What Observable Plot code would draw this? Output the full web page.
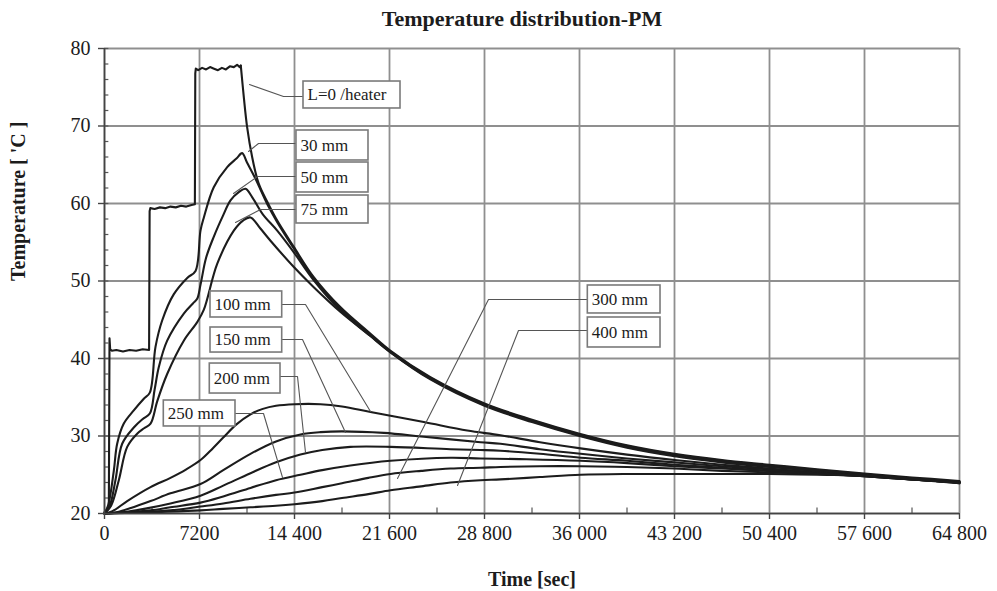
<!DOCTYPE html>
<html>
<head>
<meta charset="utf-8">
<script src="https://cdn.jsdelivr.net/npm/d3@7"></script>
<script src="https://cdn.jsdelivr.net/npm/@observablehq/plot@0.6"></script>
<style>
  html, body { margin: 0; padding: 0; background: #fff; }
  #chart svg { font-family: "Liberation Serif", "Times New Roman", serif; }
</style>
</head>
<body>
<div id="chart"></div>
<script>
// ---------- data ----------
const chartTitle = "Temperature distribution-PM";
const xLabel = "Time [sec]";
const yLabel = "Temperature [ 'C ]";
const xTicks = [0, 7200, 14400, 21600, 28800, 36000, 43200, 50400, 57600, 64800];
const yTicks = [20, 30, 40, 50, 60, 70, 80];

const timeHeater = [0, 200, 330, 380, 430, 560, 900, 1400, 1900, 2400, 2900, 3380, 3420, 3470, 3800, 4200, 4600, 5000, 5400, 5800, 6200, 6600, 6850, 6880, 6920, 7100, 7400, 7700, 8000, 8300, 8600, 8900, 9200, 9500, 9800, 10050, 10250, 10330, 10560, 10815, 11190, 11570, 11820, 12400, 13090, 14350, 15860, 17890, 20160, 21680, 24700, 28800, 32400, 36000, 39600, 43200, 46800, 50400, 54000, 57600, 61200, 64800];
const tempHeater = [20.2, 20.5, 21, 42.6, 41.2, 41.0, 41.1, 40.9, 41.1, 41.0, 41.2, 41.1, 59.0, 59.4, 59.3, 59.5, 59.4, 59.6, 59.5, 59.7, 59.6, 59.8, 59.9, 76.8, 77.4, 77.2, 77.5, 77.3, 77.6, 77.4, 77.2, 77.5, 77.3, 77.7, 77.6, 77.9, 77.6, 77.8, 73.7, 69.8, 66.0, 63.2, 62.0, 60.0, 57.8, 54.4, 50.5, 46.6, 43.2, 41.0, 37.6, 34.2, 32.1, 30.3, 28.8, 27.7, 26.9, 26.3, 25.7, 25.15, 24.65, 24.2];
const heaterCoolingStart = 10330; // time where the heater switches off

const time30 = [0, 300, 705, 960, 1463, 2220, 2980, 3435, 3865, 4370, 5255, 6270, 6900, 7275, 7530, 8280, 9300, 10000, 10430, 10800, 11444, 12400, 13090, 14350, 15860, 17890, 20160, 21680, 24700, 28800, 32400, 36000, 39600, 43200, 46800, 50400, 54000, 57600, 61200, 64800];
const temp30 = [20, 21.2, 25.5, 29, 31.6, 33.3, 34.8, 35.6, 41.5, 44.9, 48.3, 50.4, 51.3, 56.5, 58.2, 62.1, 64.7, 65.8, 66.5, 65.3, 63.2, 59.7, 57.6, 54.2, 50.3, 46.4, 43.0, 40.9, 37.5, 34.1, 32.0, 30.2, 28.7, 27.6, 26.8, 26.2, 25.6, 25.05, 24.55, 24.1];

const time50 = [0, 400, 830, 1340, 2220, 2900, 3435, 3800, 4117, 4750, 6010, 6700, 7025, 7275, 7700, 8280, 9000, 9550, 10200, 10690, 11200, 12000, 13090, 14350, 15860, 17890, 20160, 21680, 24700, 28800, 32400, 36000, 39600, 43200, 46800, 50400, 54000, 57600, 61200, 64800];
const temp50 = [20, 21, 24.3, 29, 31.1, 32.2, 32.9, 36, 38.9, 42.3, 45.8, 47.1, 47.7, 49.5, 53, 55.7, 58.5, 60.4, 61.5, 61.9, 60.8, 58.6, 56.5, 53.7, 50.1, 46.2, 42.9, 40.8, 37.4, 34.0, 31.9, 30.1, 28.6, 27.5, 26.7, 26.1, 25.5, 24.95, 24.5, 24.1];

const time75 = [0, 500, 1085, 1720, 2475, 3000, 3490, 4000, 4750, 6010, 7025, 7530, 8540, 9800, 10500, 11065, 11800, 12580, 14350, 15860, 17890, 20160, 21680, 24700, 28800, 32400, 36000, 39600, 43200, 46800, 50400, 54000, 57600, 61200, 64800];
const temp75 = [20, 21, 24.3, 28.6, 30.3, 31, 31.6, 34.5, 38, 42.3, 44.7, 46.3, 52.2, 56.5, 57.8, 58.2, 56.8, 55.2, 51.8, 49.2, 46.0, 42.9, 40.8, 37.3, 33.9, 31.8, 30.0, 28.5, 27.4, 26.6, 26.0, 25.5, 24.9, 24.45, 24.0];

const time100 = [0, 600, 1720, 3490, 5000, 6200, 7275, 8200, 9000, 10000, 11065, 12000, 13000, 14400, 16370, 18000, 20160, 24200, 27490, 30010, 33000, 36080, 39600, 43200, 46800, 50400, 54000, 57600, 61200, 64800];
const temp100 = [20, 20.3, 21.6, 23.4, 24.6, 25.7, 26.9, 28.4, 29.8, 31.5, 32.8, 33.5, 33.9, 34.1, 34.1, 33.8, 33.1, 31.8, 30.7, 30.1, 29.2, 28.4, 27.6, 26.9, 26.3, 25.8, 25.3, 24.9, 24.4, 24.0];

const time150 = [0, 1000, 2000, 3490, 5000, 7275, 9000, 11065, 13000, 14850, 16370, 18000, 21170, 24200, 28500, 30010, 33000, 36080, 39600, 43200, 46800, 50400, 54000, 57600, 61200, 64800];
const temp150 = [20, 20.2, 20.7, 21.6, 22.6, 23.8, 25.6, 27.7, 29.3, 30.2, 30.5, 30.6, 30.4, 29.9, 29.2, 29.0, 28.3, 27.7, 27.1, 26.6, 26.1, 25.7, 25.3, 24.9, 24.4, 24.0];

const time200 = [0, 1500, 3000, 5000, 7275, 9000, 11065, 13000, 14850, 16500, 18640, 21680, 26220, 28500, 30010, 33000, 36080, 39600, 43200, 46800, 50400, 54000, 57600, 61200, 64800];
const temp200 = [20, 20.2, 20.6, 21.3, 22.3, 23.6, 25.2, 26.6, 27.6, 28.2, 28.6, 28.6, 28.3, 28.2, 28.1, 27.7, 27.2, 26.8, 26.3, 25.9, 25.5, 25.2, 24.8, 24.4, 24.0];

const time250 = [0, 2000, 3500, 5000, 7275, 9000, 11065, 13000, 14850, 16500, 18640, 21680, 26220, 28500, 32000, 36080, 39600, 43200, 46800, 50400, 54000, 57600, 61200, 64800];
const temp250 = [20, 20.2, 20.4, 20.8, 21.4, 22.2, 23.3, 24.3, 25.0, 25.6, 26.2, 26.8, 27.2, 27.1, 27.0, 26.8, 26.5, 26.1, 25.8, 25.5, 25.2, 24.8, 24.4, 24.0];

const time300 = [0, 3000, 5000, 7275, 9000, 11065, 13000, 14400, 16500, 18000, 20000, 21680, 24000, 26220, 28500, 30010, 33000, 36080, 39600, 43200, 46800, 50400, 54000, 57600, 61200, 64800];
const temp300 = [20, 20.2, 20.4, 20.9, 21.3, 21.9, 22.4, 22.7, 23.4, 23.9, 24.6, 25.1, 25.5, 25.8, 25.9, 26.0, 26.1, 26.1, 26.0, 25.8, 25.5, 25.3, 25.1, 24.8, 24.4, 23.9];

const time400 = [0, 4000, 7275, 9000, 11065, 13000, 14400, 16500, 18000, 20000, 21680, 24000, 26220, 28500, 30010, 33000, 36080, 39600, 43200, 46800, 50400, 54000, 57600, 61200, 64800];
const temp400 = [20, 20.2, 20.4, 20.6, 20.8, 21.0, 21.2, 21.6, 22.0, 22.5, 23.0, 23.5, 24.0, 24.3, 24.4, 24.7, 25.0, 25.1, 25.1, 25.1, 25.1, 25.0, 24.9, 24.5, 23.9];

// label boxes (data units) and leader lines
const labelNames = ["L=0 /heater", "30 mm", "50 mm", "75 mm", "100 mm", "150 mm", "200 mm", "250 mm", "300 mm", "400 mm"];
const boxTimeStart = [15082, 14550, 14550, 14550, 8034, 8034, 7980, 4494, 36630, 36630];
const boxTimeEnd   = [22434, 20008, 20008, 20008, 13468, 13468, 13339, 9928, 42140, 42140];
const boxTempTop    = [75.74, 69.42, 65.29, 61.03, 48.65, 44.0, 39.35, 34.58, 49.42, 45.29];
const boxTempBottom = [72.26, 65.55, 61.42, 57.42, 45.29, 40.77, 35.48, 31.23, 45.81, 41.42];
const leaderTimes = [
  [10990, 13566, 15082],
  [10914, 11672, 14550],
  [9777, 11596, 14550],
  [9928, 11823, 14550],
  [20160, 15234, 13468],
  [18265, 15006, 13468],
  [15234, 14627, 13339],
  [13490, 12050, 9928],
  [22206, 29103, 36630],
  [26754, 31377, 36630]
];
const leaderTemps = [
  [75.35, 73.8, 73.8],
  [66.71, 67.74, 67.74],
  [61.29, 63.48, 63.48],
  [57.55, 59.23, 59.23],
  [33.16, 46.97, 46.97],
  [30.45, 42.45, 42.45],
  [27.87, 37.68, 37.68],
  [24.65, 32.9, 32.9],
  [24.52, 47.61, 47.61],
  [23.61, 43.61, 43.61]
];

// ---------- build tables ----------
const smoothSeries = [
  ["30 mm", time30, temp30], ["50 mm", time50, temp50], ["75 mm", time75, temp75],
  ["100 mm", time100, temp100], ["150 mm", time150, temp150], ["200 mm", time200, temp200],
  ["250 mm", time250, temp250], ["300 mm", time300, temp300], ["400 mm", time400, temp400]
];
const smoothRows = smoothSeries.flatMap(([name, ts, vs]) => ts.map((t, i) => ({series: name, t, v: vs[i]})));
const heaterAll = timeHeater.map((t, i) => ({t, v: tempHeater[i]}));
const heaterOn = heaterAll.filter(d => d.t <= heaterCoolingStart);
const heaterOff = heaterAll.filter(d => d.t >= heaterCoolingStart);
const boxes = labelNames.map((label, i) => ({label, x1: boxTimeStart[i], x2: boxTimeEnd[i], y1: boxTempTop[i], y2: boxTempBottom[i]}));
const leaderRows = labelNames.flatMap((label, i) => leaderTimes[i].map((t, j) => ({label, t, v: leaderTemps[i][j]})));

const minorX = d3.range(3600, 64800, 7200);
const allY = d3.range(20, 81, 2);
const fmtX = t => t < 10000 ? String(t) : d3.format(",")(t).replace(/,/g, " ");

const FONT = '"Liberation Serif", "Times New Roman", serif';
const INK = "#1c1c1c";

const chart = Plot.plot({
  width: 997,
  height: 591,
  marginLeft: 104,
  marginRight: 38,
  marginTop: 48,
  marginBottom: 78,
  style: {fontFamily: FONT, color: INK, background: "#fff", overflow: "visible"},
  x: {domain: [0, 64800], label: null},
  y: {domain: [20, 80], label: null},
  marks: [
    Plot.gridX(xTicks, {stroke: "#8f8f8f", strokeOpacity: 1, strokeWidth: 1.8}),
    Plot.gridY(yTicks, {stroke: "#8f8f8f", strokeOpacity: 1, strokeWidth: 1.8}),
    // inner minor ticks
    Plot.ruleY(allY, {x1: 0, x2: 330, stroke: "#555", strokeWidth: 1.2}),
    Plot.ruleX(minorX, {y1: 20, y2: 20.7, stroke: "#555", strokeWidth: 1.2}),
    // curves
    Plot.line(heaterOn, {x: "t", y: "v", stroke: INK, strokeWidth: 2.1, curve: "linear"}),
    Plot.line(heaterOff, {x: "t", y: "v", stroke: INK, strokeWidth: 2.1, curve: "catmull-rom"}),
    Plot.line(smoothRows, {x: "t", y: "v", z: "series", stroke: INK, strokeWidth: 2.1, curve: "catmull-rom"}),
    // leaders
    Plot.line(leaderRows, {x: "t", y: "v", z: "label", stroke: "#555", strokeWidth: 1.1}),
    // label boxes
    Plot.rect(boxes, {x1: "x1", x2: "x2", y1: "y1", y2: "y2", fill: "#fff", stroke: "#7a7a7a", strokeWidth: 1.6}),
    Plot.text(boxes, {x: "x1", y: d => (d.y1 + d.y2) / 2, text: "label", textAnchor: "start", dx: 4, fontSize: 17, fill: INK, fontFamily: FONT}),
    // axis lines
    Plot.ruleX([0], {stroke: "#444", strokeWidth: 1.6}),
    Plot.ruleY([20], {stroke: "#444", strokeWidth: 1.6}),
    Plot.axisY({ticks: yTicks, tickSize: 6, tickPadding: 8, fontSize: 20, label: null, stroke: "#444", strokeWidth: 1.4, fill: INK}),
    Plot.axisX({ticks: xTicks, tickSize: 6, tickPadding: 6, fontSize: 20, label: null, tickFormat: fmtX, stroke: "#444", strokeWidth: 1.4, fill: INK}),
    // titles
    Plot.text([chartTitle], {frameAnchor: "top", lineAnchor: "middle", dy: -30, dx: -10, fontSize: 22, fontWeight: "bold", fill: INK, fontFamily: FONT}),
    Plot.text([xLabel], {frameAnchor: "bottom", lineAnchor: "middle", dy: 66, fontSize: 20, fontWeight: "bold", fill: INK, fontFamily: FONT}),
    Plot.text([yLabel], {frameAnchor: "left", dx: -86, rotate: -90, fontSize: 20, fontWeight: "bold", fill: INK, fontFamily: FONT})
  ]
});
document.getElementById("chart").append(chart);
</script>
</body>
</html>
